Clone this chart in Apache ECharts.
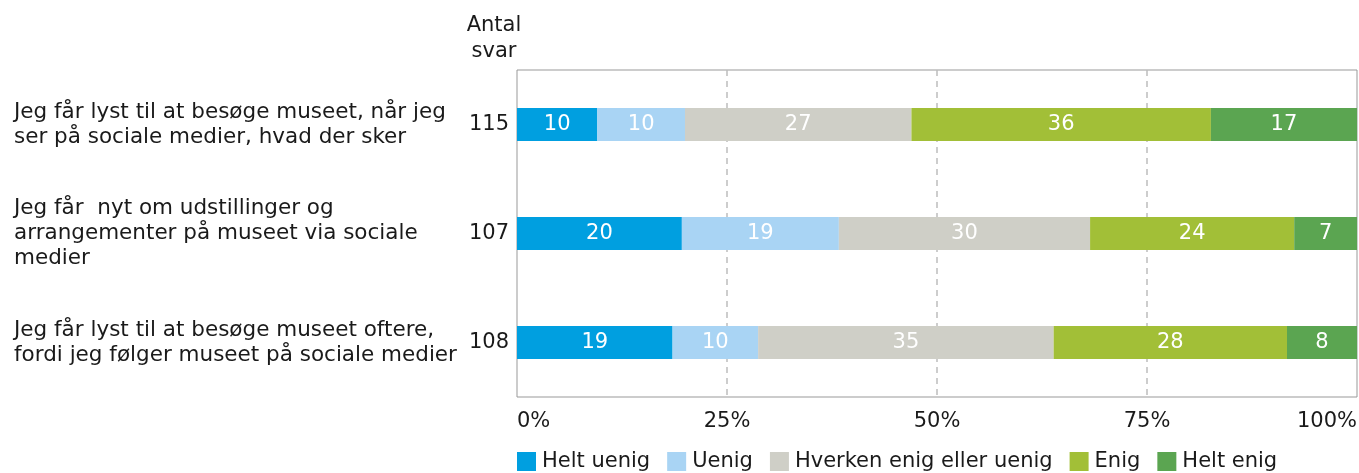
<!DOCTYPE html>
<html>
<head>
<meta charset="utf-8">
<script src="https://cdn.jsdelivr.net/npm/echarts@6/dist/echarts.min.js"></script>
<style>
  html, body { margin: 0; padding: 0; background: #fff; }
  #chart { width: 1359px; height: 473px; }
</style>
</head>
<body>
<div id="chart"></div>
<script>
// udsagn (kategorier)
const categories = [
  'Jeg får lyst til at besøge museet, når jeg\nser på sociale medier, hvad der sker',
  'Jeg får  nyt om udstillinger og\narrangementer på museet via sociale\nmedier',
  'Jeg får lyst til at besøge museet oftere,\nfordi jeg følger museet på sociale medier'
];
const antalSvar = [115, 107, 108];

// antal svar pr. kategori
const heltUenig = [11, 21, 20];
const uenig = [12, 20, 11];
const hverken = [31, 32, 38];
const enig = [41, 26, 30];
const heltEnig = [20, 8, 9];

const seriesNames = ['Helt uenig', 'Uenig', 'Hverken enig eller uenig', 'Enig', 'Helt enig'];
const seriesData = [heltUenig, uenig, hverken, enig, heltEnig];
const colors = ['#009FE0', '#A9D4F4', '#CFCFC7', '#A2BF37', '#5BA551'];
const xTicks = [0, 25, 50, 75, 100];

const FONT = 'DejaVu Sans';
const TEXT = '#1a1a1a';

const chart = echarts.init(document.getElementById('chart'));

const option = {
  color: colors,
  animation: false,
  textStyle: { fontFamily: FONT },
  title: {
    text: 'Antal\nsvar',
    left: 489,
    top: 8,
    textAlign: 'center',
    textStyle: { fontSize: 21, lineHeight: 26, fontWeight: 'normal', color: TEXT, fontFamily: FONT }
  },
  legend: {
    data: seriesNames,
    left: 512,
    top: 446,
    icon: 'rect',
    itemWidth: 19,
    itemHeight: 19,
    itemGap: 17,
    textStyle: { fontSize: 21, color: TEXT, fontFamily: FONT, padding: [0, 0, 0, 1] }
  },
  grid: {
    left: 517,
    right: 2,
    top: 70,
    bottom: 76,
    show: true,
    borderColor: '#999',
    borderWidth: 1,
    outerBoundsMode: 'none'
  },
  xAxis: {
    type: 'value',
    min: xTicks[0],
    max: xTicks[xTicks.length - 1],
    interval: 25,
    axisLine: { show: false },
    axisTick: { show: false },
    axisLabel: {
      formatter: '{value}%',
      fontSize: 21,
      color: TEXT,
      margin: 14,
      alignMinLabel: 'left',
      alignMaxLabel: 'right'
    },
    splitLine: {
      show: true,
      showMinLine: false,
      showMaxLine: false,
      lineStyle: { color: '#bdbdbd', type: [6, 5], width: 1.5 }
    }
  },
  yAxis: [
    {
      type: 'category',
      data: categories,
      inverse: true,
      axisLine: { show: false },
      axisTick: { show: false },
      axisLabel: {
        align: 'left',
        margin: 503,
        fontSize: 21.5,
        lineHeight: 25,
        color: TEXT
      }
    },
    {
      type: 'category',
      position: 'left',
      data: antalSvar.map(String),
      inverse: true,
      axisLine: { show: false },
      axisTick: { show: false },
      axisLabel: { margin: 8, fontSize: 21, color: TEXT }
    }
  ],
  series: seriesNames.map((name, k) => ({
    name,
    type: 'bar',
    stack: 'total',
    yAxisIndex: 0,
    barWidth: 33,
    label: {
      show: true,
      position: 'inside',
      color: '#fff',
      fontSize: 21,
      fontFamily: FONT,
      formatter: p => Math.round(p.value)
    },
    data: seriesData[k].map((c, i) => c / antalSvar[i] * 100)
  }))
};

chart.setOption(option);
window.addEventListener('resize', () => chart.resize());
</script>
</body>
</html>
